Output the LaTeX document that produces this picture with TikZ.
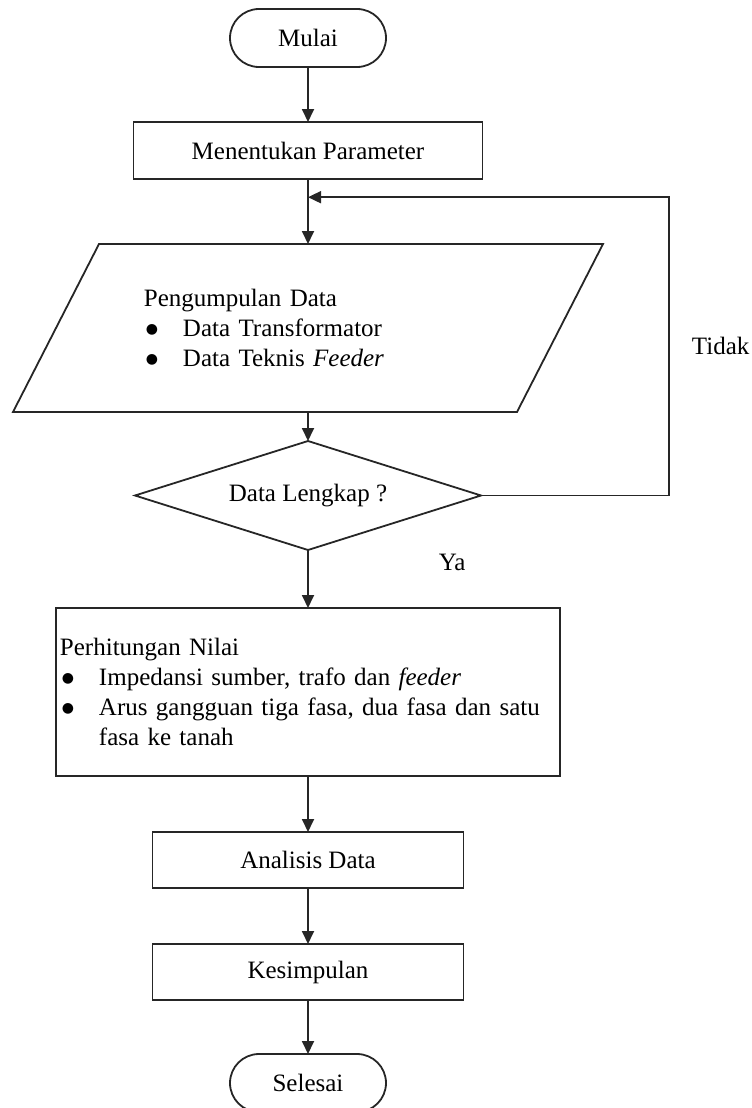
\documentclass[tikz,border=0pt]{standalone}
\usepackage{fontspec}
\setmainfont{Liberation Serif}
\newfontfamily\symfont{DejaVu Sans}
\usepackage{tikz}
\usetikzlibrary{shapes.geometric, arrows.meta, positioning, calc}

\newcommand{\bul}{\hspace*{1pt}\makebox[18.5pt][l]{\raisebox{1.7pt}{\symfont\fontsize{7}{7}\selectfont ●}}}

\begin{document}
\begin{tikzpicture}[
    font=\fontsize{12.5}{15}\selectfont,
    base/.style={draw=black!85, line width=0.9pt, inner sep=0pt, outer sep=0pt, align=center},
    terminal/.style={base, rectangle, rounded corners=14.5pt, minimum width=78pt, minimum height=29pt},
    process/.style={base, rectangle, minimum width=174.5pt, minimum height=28.5pt},
    smallproc/.style={process, minimum width=155.5pt, minimum height=28pt},
    inout/.style={rectangle, inner sep=0pt, outer sep=0pt, minimum width=252pt, minimum height=84pt},
    decision/.style={base, diamond, aspect=3.17, minimum width=173pt, minimum height=54.5pt},
    arr/.style={-{Triangle[length=6.5pt, width=6pt]}, draw=black!85, line width=0.9pt},
    lbl/.style={inner sep=0pt},
]
\useasboundingbox (-154pt,19pt) rectangle (221.5pt,-535pt);

% ======== MAIN FLOW ========
\node[terminal] (mulai) at (0,0) {Mulai};
\node[process, below=27.5pt of mulai] (param) {Menentukan Parameter};
\node[inout, below=32.5pt of param, text width=164pt, align=left] (data)
    {Pengumpulan Data\\ \bul Data Transformator\\ \bul Data Teknis \textit{Feeder}};
\node[decision, below=14.5pt of data] (cek) {Data Lengkap ?};
\node[process, below=29pt of cek, minimum width=252pt, minimum height=84pt,
      text width=248pt, inner xsep=2pt, align=left] (hitung)
    {Perhitungan Nilai\\ \bul Impedansi sumber, trafo dan \textit{feeder}\\
     \bul Arus gangguan tiga fasa, dua fasa dan satu\\ \hspace*{19.5pt}fasa ke tanah};
\node[smallproc, below=28pt of hitung] (analisis) {Analisis Data};
\node[smallproc, below=28pt of analisis] (simpul) {Kesimpulan};
\node[terminal, below=27pt of simpul] (selesai) {Selesai};

% Parallelogram (input data)
\draw[base] ($(data.north west)+(21.5pt,0)$) -- ($(data.north east)+(21.5pt,0)$)
    -- ($(data.south east)+(-21.5pt,0)$) -- ($(data.south west)+(-21.5pt,0)$) -- cycle;

\coordinate (gabung) at ($(param.south)!0.28!(data.north)$);

\draw[arr] (mulai) -- (param);
\draw[arr] (param) -- (data);
\draw[arr] (data) -- (cek);
\draw[arr] (cek) -- node[lbl, pos=0.22, right=65pt] (ya) {Ya} (hitung);
\draw[arr] (hitung) -- (analisis);
\draw[arr] (analisis) -- (simpul);
\draw[arr] (simpul) -- (selesai);

% Loop back when data is incomplete
\draw[arr] (cek.east) -- ++(94pt,0) |- node[lbl, pos=0.25, right=11pt] (tidak) {Tidak} (gabung);

\end{tikzpicture}
\end{document}
